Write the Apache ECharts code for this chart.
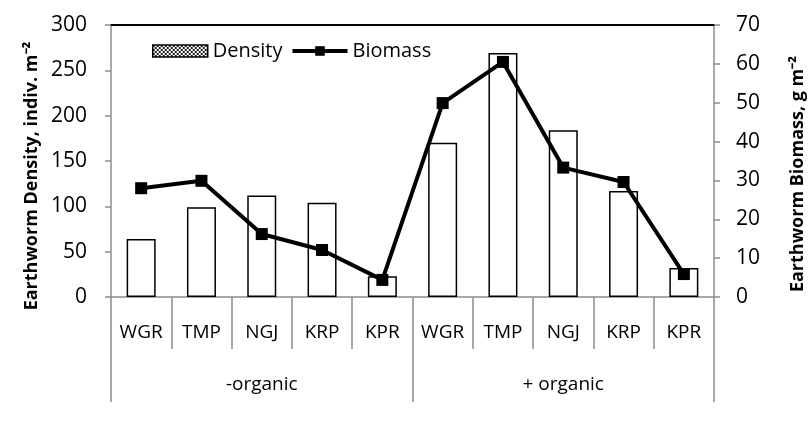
<!DOCTYPE html>
<html>
<head>
<meta charset="utf-8">
<script src="https://cdn.jsdelivr.net/npm/echarts@6/dist/echarts.min.js"></script>
<style>html,body{margin:0;padding:0;background:#fff}#chart{width:810px;height:432px}</style>
</head>
<body>
<div id="chart"></div>
<script>
// 数据
var sites = ['WGR', 'TMP', 'NGJ', 'KRP', 'KPR', 'WGR', 'TMP', 'NGJ', 'KRP', 'KPR'];
var groups = ['-organic', '+ organic'];
var density = [64, 99, 112, 104, 23, 170, 269, 184, 117, 32];
var biomass = [28.0, 29.9, 16.2, 12.1, 4.4, 49.9, 60.5, 33.3, 29.6, 5.9];
var leftTitle = 'Earthworm Density, indiv. m\u207B\u00B2';
var rightTitle = 'Earthworm Biomass, g m\u207B\u00B2';

var FONT = 'Open Sans';
var gray = '#8c8c8c';

// 图例用的格子图案
var pat = document.createElement('canvas');
pat.width = 4; pat.height = 4;
var pc = pat.getContext('2d');
pc.fillStyle = '#fff'; pc.fillRect(0, 0, 4, 4);
pc.fillStyle = '#222'; pc.fillRect(0, 0, 2, 2); pc.fillRect(2, 2, 2, 2);

var myChart = echarts.init(document.getElementById('chart'));
myChart.setOption({
    backgroundColor: '#fff',
    animation: false,
    textStyle: { fontFamily: FONT },
    grid: { left: 111, right: 96, top: 25, bottom: 135 },
    legend: {
        left: 147, top: 36,
        itemGap: 8,
        itemWidth: 55, itemHeight: 12,
        textStyle: { fontSize: 20, color: '#000', fontFamily: FONT },
        data: [
            { name: 'Density', icon: 'rect', itemStyle: { color: { image: pat, repeat: 'repeat' }, borderColor: '#000', borderWidth: 1.5 } },
            { name: 'Biomass', lineStyle: { width: 4, color: '#000' }, itemStyle: { color: '#000' } }
        ]
    },
    graphic: [{
        type: 'text', x: 32, y: 176, rotation: Math.PI / 2,
        style: { text: leftTitle, fontSize: 18, fontWeight: 'bold', fontFamily: FONT, fill: '#000', align: 'center', verticalAlign: 'middle' }
    }, {
        type: 'text', x: 798, y: 174, rotation: Math.PI / 2,
        style: { text: rightTitle, fontSize: 18, fontWeight: 'bold', fontFamily: FONT, fill: '#000', align: 'center', verticalAlign: 'middle' }
    }],
    xAxis: [{
        type: 'category',
        data: sites,
        position: 'bottom',
        axisLine: { lineStyle: { color: gray, width: 1.5 } },
        axisTick: { show: true, interval: 0, length: 52, lineStyle: { color: gray, width: 1.5 } },
        axisLabel: { interval: 0, margin: 26, fontSize: 19, color: '#000' }
    }, {
        type: 'category',
        data: groups,
        position: 'bottom',
        axisLine: { show: false },
        axisTick: { show: true, interval: 0, length: 105, lineStyle: { color: gray, width: 1.5 } },
        axisLabel: { interval: 0, margin: 78, fontSize: 19, color: '#000' }
    }, {
        type: 'category',
        data: sites,
        position: 'top',
        axisLine: { lineStyle: { color: '#000', width: 2 } },
        axisTick: { show: false },
        axisLabel: { show: false }
    }],
    yAxis: [{
        type: 'value',
        min: 0, max: 300, interval: 50,
        axisLine: { show: true, lineStyle: { color: gray, width: 1.5 } },
        axisTick: { show: true, length: 6, lineStyle: { color: gray, width: 1.5 } },
        axisLabel: { fontSize: 21, color: '#000', margin: 24 },
        splitLine: { show: false }
    }, {
        type: 'value',
        min: 0, max: 70, interval: 10,
        position: 'right',
        axisLine: { show: true, lineStyle: { color: gray, width: 1.5 } },
        axisTick: { show: true, length: 6, lineStyle: { color: gray, width: 1.5 } },
        axisLabel: { fontSize: 21, color: '#000', margin: 22 },
        splitLine: { show: false }
    }],
    series: [{
        name: 'Density',
        type: 'bar',
        data: density,
        barWidth: 29,
        itemStyle: { color: '#fff', borderColor: '#000', borderWidth: 1.5 }
    }, {
        name: 'Biomass',
        type: 'line',
        yAxisIndex: 1,
        data: biomass,
        symbol: 'rect',
        symbolSize: 12,
        lineStyle: { color: '#000', width: 4 },
        itemStyle: { color: '#000' }
    }]
});
</script>
</body>
</html>
